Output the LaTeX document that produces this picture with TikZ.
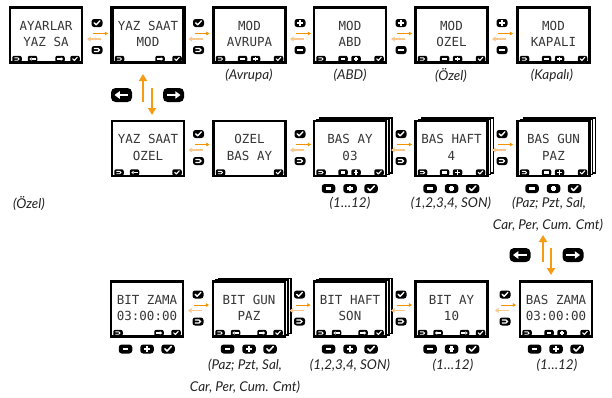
\documentclass[tikz,border=0pt]{standalone}
\usepackage{fontspec}
\usetikzlibrary{arrows.meta}
\newfontfamily\lcdfont{DejaVu Sans Mono}
\newfontfamily\labfont{Lato}
\definecolor{darkor}{RGB}{243,146,0}
\definecolor{paleor}{RGB}{249,200,142}
\definecolor{vor}{RGB}{245,155,20}
\definecolor{lcdtext}{RGB}{55,55,55}
\definecolor{labtext}{RGB}{35,35,35}
\tikzset{
  lcd/.style={font=\lcdfont\fontsize{12.5}{14}\selectfont, text=lcdtext, inner sep=0pt},
  lab/.style={font=\labfont\itshape\fontsize{13.5}{15}\selectfont, text=labtext, inner sep=0pt},
  screenbox/.style={line width=2.8pt, fill=white},
  layerbox/.style={line width=1.1pt, fill=white},
  fwdarrow/.style={darkor, line width=0.9pt, -{Triangle[width=3.6pt,length=3.2pt]}},
  backarrow/.style={paleor, line width=1.8pt, -{Triangle[width=4.8pt,length=3.6pt]}},
  vertarrow/.style={vor, line width=2pt, -{Triangle[width=8pt,length=7pt]}}
}
\newcommand\glyphcheck[1]{\draw[white,line width={#1*0.17pt},line cap=round,line join=round] (-0.7,0.05) -- (-0.2,-0.45) -- (0.72,0.55);}
\newcommand\glyphback[1]{\draw[white,line width={#1*0.15pt}] (-0.8,0.38) -- (0.25,0.38) arc[start angle=90,end angle=-90,radius=0.38] -- (-0.8,-0.38);}
\newcommand\glyphminus[1]{\draw[white,line width={#1*0.32pt}] (-0.65,0) -- (0.65,0);}
\newcommand\glyphplus[1]{\draw[white,line width={#1*0.3pt}] (-0.65,0) -- (0.65,0) (0,-0.65) -- (0,0.65);}
\newcommand\glyphleft[1]{\draw[white,line width={#1*0.2pt}] (0.95,0) -- (-0.3,0); \fill[white] (-1.0,0) -- (-0.25,0.55) -- (-0.25,-0.55) -- cycle;}
\newcommand\glyphright[1]{\draw[white,line width={#1*0.2pt}] (-0.95,0) -- (0.3,0); \fill[white] (1.0,0) -- (0.25,0.55) -- (0.25,-0.55) -- cycle;}
% icon: cx cy w h type
\newcommand\ico[5]{%
 \begin{scope}[shift={({#1},{#2})}]
  \fill[black, rounded corners={#4*0.32pt}] ({-#3/2},{-#4/2}) rectangle ({#3/2},{#4/2});
  \pgfmathsetmacro\icu{#4*0.5}%
  \begin{scope}[x=\icu pt, y=\icu pt]
   \csname glyph#5\endcsname{#4}%
  \end{scope}
 \end{scope}}
% screen: name cx cy line1 line2 icons stacked border
\newcommand\scr[7]{%
 \ifnum#7=1\relax
   \draw[layerbox] ({#2-36+6},{#3-27.5-3}) rectangle ({#2+36+6},{#3+27.5-3});
   \draw[layerbox] ({#2-36+3},{#3-27.5-1.5}) rectangle ({#2+36+3},{#3+27.5-1.5});
 \fi
 \draw[screenbox] ({#2-36},{#3-27.5}) rectangle ({#2+36},{#3+27.5});
 \node[lcd] (#1a) at ({#2},{#3-9.5}) {#4};
 \node[lcd] (#1b) at ({#2},{#3+7}) {#5};
 \foreach \t/\d in {#6} {\ico{#2+\d}{#3+24}{9.5}{6.5}{\t}}%
}
% gap icons and arrows: G c top bottom
\newcommand\gapic[4]{%
 \ico{#1}{#2-13.5}{11}{8}{#3}
 \draw[fwdarrow] ({#1-4},{#2-3}) -- ({#1+11},{#2-3});
 \draw[backarrow] ({#1+4},{#2+2.5}) -- ({#1-10},{#2+2.5});
 \ico{#1}{#2+13.5}{11}{8}{#4}
}
\newcommand\btns[2]{\ico{#1-21.5}{#2}{13.5}{9}{minus}\ico{#1}{#2}{13.5}{9}{plus}\ico{#1+21}{#2}{13.5}{9}{check}}
\begin{document}
\begin{tikzpicture}[x=1pt,y=-1pt]
\useasboundingbox[fill=white] (0,0) rectangle (612,397);
% top row
\scr{t1}{46}{35}{AYARLAR}{YAZ SA}{back/-29,left/-13.5,right/14,check/29}{0}
\tikzset{screenbox/.append style={line width=3.4pt}}
\scr{t2}{148}{35}{YAZ SAAT}{MOD}{back/-28.5,right/12,check/29}{0}
\tikzset{screenbox/.append style={line width=2.8pt}}
\scr{t3}{249.5}{35}{MOD}{AVRUPA}{back/-29,minus/-7,plus/6,check/29}{0}
\scr{t4}{350}{35}{MOD}{ABD}{back/-29,minus/-7,plus/6,check/29}{0}
\scr{t5}{451.5}{35}{MOD}{OZEL}{back/-29,minus/-7,plus/6,check/29}{0}
\scr{t6}{553.5}{35}{MOD}{KAPALI}{back/-29,minus/-7,plus/6,check/29}{0}
\gapic{97}{36.5}{check}{back}
\gapic{198.5}{36.5}{check}{back}
\gapic{300}{36.5}{plus}{minus}
\gapic{401}{36.5}{plus}{minus}
\gapic{502}{36.5}{plus}{minus}
\node[lab] (lav) at (249,75) {(Avrupa)};
\node[lab] (labd) at (350,75) {(ABD)};
\node[lab] (lozt) at (451,75) {(Özel)};
\node[lab] (lkap) at (552,75) {(Kapalı)};
% vertical link top
\draw[vertarrow] (143,102) -- (143,74);
\draw[vertarrow] (152,88) -- (152,115);
\ico{121.5}{95}{21}{14}{left}
\ico{173.5}{95}{21}{14}{right}
% middle row
\scr{m1}{148}{148.5}{YAZ SAAT}{OZEL}{back/-29,left/-13.5,check/29}{0}
\scr{m2}{249.5}{148.5}{OZEL}{BAS AY}{back/-29,check/29}{0}
\scr{m3}{350}{148.5}{BAS AY}{03}{back/-29,minus/-7,plus/6,check/29}{1}
\scr{m4}{451.5}{148.5}{BAS HAFT}{4}{back/-29,minus/-7,plus/6,check/29}{1}
\scr{m5}{553.5}{148.5}{BAS GUN}{PAZ}{back/-29,minus/-7,plus/6,check/29}{1}
\gapic{198.5}{147.5}{check}{back}
\gapic{300}{147.5}{check}{back}
\gapic{401}{147.5}{check}{back}
\gapic{502}{147.5}{check}{back}
\btns{350}{188.5}
\btns{451.5}{188.5}
\btns{553.5}{188.5}
\node[lab] (lozm) at (29,203) {(Özel)};
\node[lab] (lm3) at (350,203) {(1…12)};
\node[lab] (lm4) at (451,203) {(1,2,3,4, SON)};
\node[lab] (lm5a) at (549,203) {(Paz; Pzt, Sal,};
\node[lab] (lm5b) at (548,225) {Car, Per, Cum. Cmt)};
% vertical link right
\draw[vertarrow] (543,262) -- (543,235);
\draw[vertarrow] (551,248) -- (551,275);
\ico{520}{255}{21}{14}{left}
\ico{573}{255}{21}{14}{right}
% bottom row
\scr{b1}{147}{309}{BIT ZAMA}{03:00:00}{back/-29,right/12,check/29}{0}
\scr{b2}{249}{309}{BIT GUN}{PAZ}{back/-29,left/-13.5,right/13,check/29}{1}
\scr{b3}{350}{309}{BIT HAFT}{SON}{back/-29,left/-13.5,right/13,check/29}{1}
\scr{b4}{451.5}{309}{BIT AY}{10}{back/-29,left/-13.5,right/13,check/29}{0}
\scr{b5}{556}{309}{BAS ZAMA}{03:00:00}{back/-29,minus/-7,plus/6,check/29}{0}
\gapic{198}{308}{check}{back}
\gapic{299.5}{308}{check}{back}
\gapic{401}{308}{check}{back}
\gapic{505}{308}{check}{back}
\btns{147}{349}
\btns{249}{349}
\btns{350}{349}
\btns{451.5}{349}
\btns{556}{349}
\node[lab] (lb2a) at (245,365) {(Paz; Pzt, Sal,};
\node[lab] (lb2b) at (245,387) {Car, Per, Cum. Cmt)};
\node[lab] (lb3) at (350,365) {(1,2,3,4, SON)};
\node[lab] (lb4) at (453,365) {(1…12)};
\node[lab] (lb5) at (557,365) {(1…12)};
\end{tikzpicture}
\end{document}
